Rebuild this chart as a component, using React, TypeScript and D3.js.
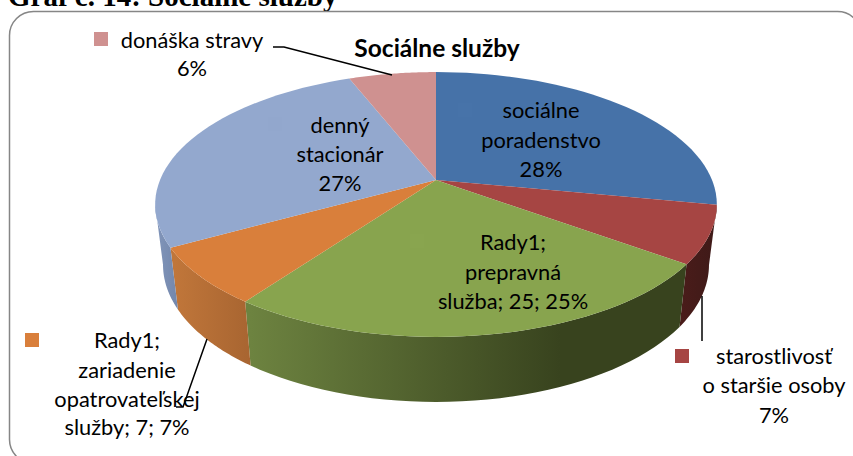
import React from 'react';
import * as d3 from 'd3';

// chart values
const categories = ['sociálne poradenstvo', 'starostlivosť o staršie osoby', 'prepravná služba', 'zariadenie opatrovateľskej služby', 'denný stacionár', 'donáška stravy'];
const values = [28, 7, 25, 7, 27, 6];
const topColors = ['#4672a8', '#a64543', '#88a44e', '#d97f3b', '#93a8ce', '#cf9190'];
const wallLeft = ['#35557d', '#4a1c1a', '#6d8340', '#c0763a', '#8296ba', '#a87574'];
const wallRight = ['#35557d', '#3f1a18', '#38431e', '#a86531', '#7488ad', '#a87574'];
const keyColors = ['#4773a9', '#a64543', '#89a54f', '#d97f3b', '#92a7cd', '#cf9190'];
const labelLines = [
  ['sociálne', 'poradenstvo', '28%'],
  ['starostlivosť', 'o staršie osoby', '7%'],
  ['Rady1;', 'prepravná', 'služba; 25; 25%'],
  ['Rady1;', 'zariadenie', 'opatrovateľskej', 'služby; 7; 7%'],
  ['denný', 'stacionár', '27%'],
  ['donáška stravy', '6%'],
];

const W = 853, H = 456;
const font = 'Lato, "Open Sans", sans-serif';
// label baselines, one list per slice
const labelX = [541, 774, 513, 127, 340, 192];
const labelY = [[118, 148, 177], [364, 393, 423], [250, 280, 309], [348, 378, 407, 435], [133, 162, 191], [48, 76]];
const keyPos = [[458, 103], [675, 349], [410, 234], [25, 333], [268, 117], [94, 32]];

// perspective view of the pie disc, fitted on the slice corners
const cx = 436, A = 276, a = 94.6, b = 180, c = -0.185;
function topPoint(t: number): [number, number] {
  const u = Math.sin(t), v = -Math.cos(t), k = 1 + c * v;
  return [cx + (A * u) / k, (a * v + b) / k];
}
function bottomPoint(t: number): [number, number] {
  const [x, y] = topPoint(t);
  const v = -Math.cos(t);
  return [cx + (x - cx) * 0.972, y + 59 + 6 * v];
}

const pieArcs = d3.pie<number>().sort(null)(values);
const lineGen = d3.line();
const samples = (t0: number, t1: number) => d3.range(0, 41).map((i) => t0 + ((t1 - t0) * i) / 40);

const wallMin = (100.7 * Math.PI) / 180, wallMax = (259.3 * Math.PI) / 180;

export default function App() {
  return (
    <svg width={W} height={H} style={{ position: 'absolute', left: 0, top: 0 }} fontFamily={font}>
      <defs>
        {categories.map((_, i) => (
          <linearGradient key={i} id={'wall' + i} gradientUnits="userSpaceOnUse"
            x1={i === 2 ? 250 : i === 1 ? 680 : i === 3 ? 175 : 155} x2={i === 2 ? 560 : i === 1 ? 715 : i === 3 ? 250 : 176} y1="0" y2="0">
            <stop offset="0" stopColor={wallLeft[i]} />
            <stop offset="1" stopColor={wallRight[i]} />
          </linearGradient>
        ))}
      </defs>
      <rect x="0" y="0" width={W} height={H} fill="#fff" />
      <text x="8" y="6" fontFamily='"Liberation Serif", serif' fontWeight="bold" fontSize="29">Graf č. 14: Sociálne služby</text>
      <rect x="9.5" y="11.5" width="852" height="452" rx="24" fill="#fff" stroke="#868686" strokeWidth="1.5" />

      {pieArcs.map((d, i) => {
        const t0 = Math.max(d.startAngle, wallMin), t1 = Math.min(d.endAngle, wallMax);
        if (t1 <= t0) return null;
        const pts = samples(t0, t1);
        const path = lineGen([...pts.map(topPoint), ...pts.slice().reverse().map(bottomPoint)]) + 'Z';
        return <path key={i} d={path} fill={`url(#wall${i})`} />;
      })}

      {pieArcs.map((d, i) => (
        <path key={i} d={lineGen([...samples(d.startAngle, d.endAngle).map(topPoint), [cx, b]]) + 'Z'} fill={topColors[i]} />
      ))}

      {/* leader lines */}
      <g fill="none" stroke="#000" strokeWidth="1.5">
        <polyline points="273,47 284,47 392,75" />
        <polyline points="176,407 183,407 207,339" />
        <polyline points="702,296 702,341" />
      </g>

      {/* legend keys of the labels, the ones on the pie nearly vanish */}
      {keyPos.map(([x, y], i) => (
        <rect key={i} x={x} y={y} width="14" height="14" fill={keyColors[i]} />
      ))}

      {labelLines.map((lines, i) => (
        <text key={i} textAnchor="middle" fontSize="21.8" fill="#000">
          {lines.map((s, j) => (
            <tspan key={j} x={labelX[i]} y={labelY[i][j]}>{s}</tspan>
          ))}
        </text>
      ))}
      <text x="437" y="57" textAnchor="middle" fontSize="24.5" fontWeight="bold">Sociálne služby</text>
    </svg>
  );
}
